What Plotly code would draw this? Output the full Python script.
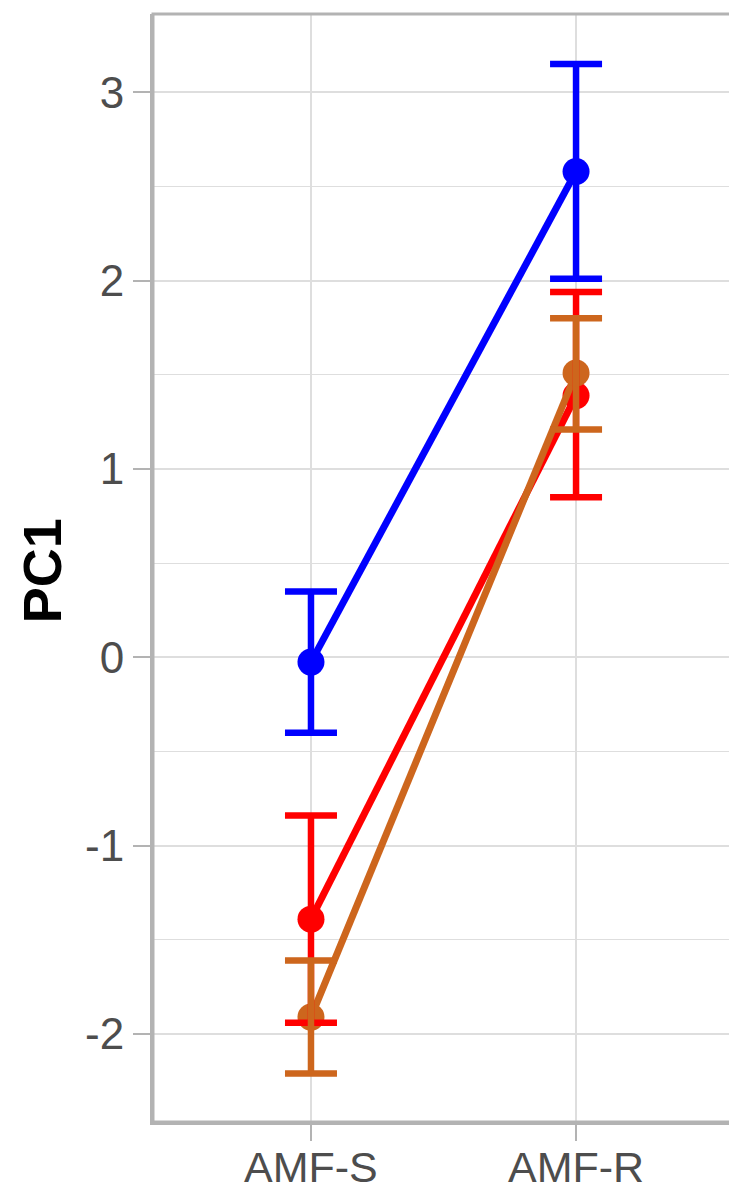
import plotly.graph_objects as go

categories = ["AMF-S", "AMF-R"]
groups = ["blue", "red", "brown"]
colors = {"blue": "#0000FF", "red": "#FF0000", "brown": "#CD661D"}
means = {
    "blue": [-0.025, 2.58],
    "red": [-1.39, 1.39],
    "brown": [-1.91, 1.51],
}
upper = {
    "blue": [0.35, 3.15],
    "red": [-0.84, 1.94],
    "brown": [-1.61, 1.80],
}
lower = {
    "blue": [-0.40, 2.01],
    "red": [-1.94, 0.85],
    "brown": [-2.21, 1.21],
}
y_ticks = [-2, -1, 0, 1, 2, 3]
y_title = "PC1"

xpos = list(range(len(categories)))
fig = go.Figure()

for g in groups:
    fig.add_trace(go.Scatter(
        x=xpos, y=means[g], mode="lines+markers",
        line=dict(color=colors[g], width=7),
        marker=dict(color=colors[g], size=27),
        showlegend=False, hoverinfo="skip",
    ))

for g in groups:
    fig.add_trace(go.Scatter(
        x=xpos, y=means[g], mode="markers",
        marker=dict(color=colors[g], size=1, opacity=0),
        error_y=dict(
            type="data", symmetric=False,
            array=[u - m for u, m in zip(upper[g], means[g])],
            arrayminus=[m - l for l, m in zip(lower[g], means[g])],
            color=colors[g], thickness=6.5, width=26,
        ),
        showlegend=False, hoverinfo="skip",
    ))

grid_c = "#DEDEDE"
axis_c = "#B3B3B3"

annotations = [
    dict(x=xv, y=0, xref="x", yref="paper", text=lab, showarrow=False,
         xanchor="center", yanchor="top", yshift=-20, borderpad=0,
         font=dict(size=43, color="#4D4D4D"))
    for xv, lab in zip(xpos, categories)
]
annotations.append(dict(
    x=0, y=0.497, xref="paper", yref="paper", text="<b>" + y_title + "</b>",
    showarrow=False, textangle=-90, xanchor="center", yanchor="middle",
    xshift=-111, font=dict(size=54, color="black"),
))

fig.update_layout(
    width=729, height=1192,
    margin=dict(l=153, r=0, t=14, b=70, autoexpand=False),
    plot_bgcolor="white", paper_bgcolor="white",
    font=dict(family="Liberation Sans, Arial, sans-serif", color="#4D4D4D"),
    xaxis=dict(
        range=[-0.596, 1.577],
        tickmode="array", tickvals=xpos, ticktext=categories,
        showticklabels=False,
        showgrid=True, gridcolor=grid_c, gridwidth=2,
        showline=True, linecolor=axis_c, linewidth=3,
        ticks="outside", ticklen=16, tickwidth=2, tickcolor=axis_c,
        automargin=False,
        zeroline=False,
    ),
    yaxis=dict(
        range=[-2.467, 3.416],
        tickmode="array", tickvals=y_ticks, ticktext=[str(v) for v in y_ticks],
        showgrid=True, gridcolor=grid_c, gridwidth=2,
        minor=dict(dtick=0.5, showgrid=True, gridcolor=grid_c, gridwidth=1),
        showline=True, linecolor=axis_c, linewidth=3,
        ticks="outside", ticklen=17, tickwidth=2, tickcolor=axis_c,
        tickfont=dict(size=44, color="#4D4D4D"),
        zeroline=False, automargin=False,
    ),
    annotations=annotations,
    shapes=[dict(type="rect", xref="paper", yref="paper", x0=0, x1=1.05, y0=0, y1=1,
                 line=dict(color=axis_c, width=3), layer="above")],
)

fig.write_html(
    "out.html",
    config={"displayModeBar": False},
    post_script="document.body.style.margin='0';document.body.style.overflow='hidden';",
)
